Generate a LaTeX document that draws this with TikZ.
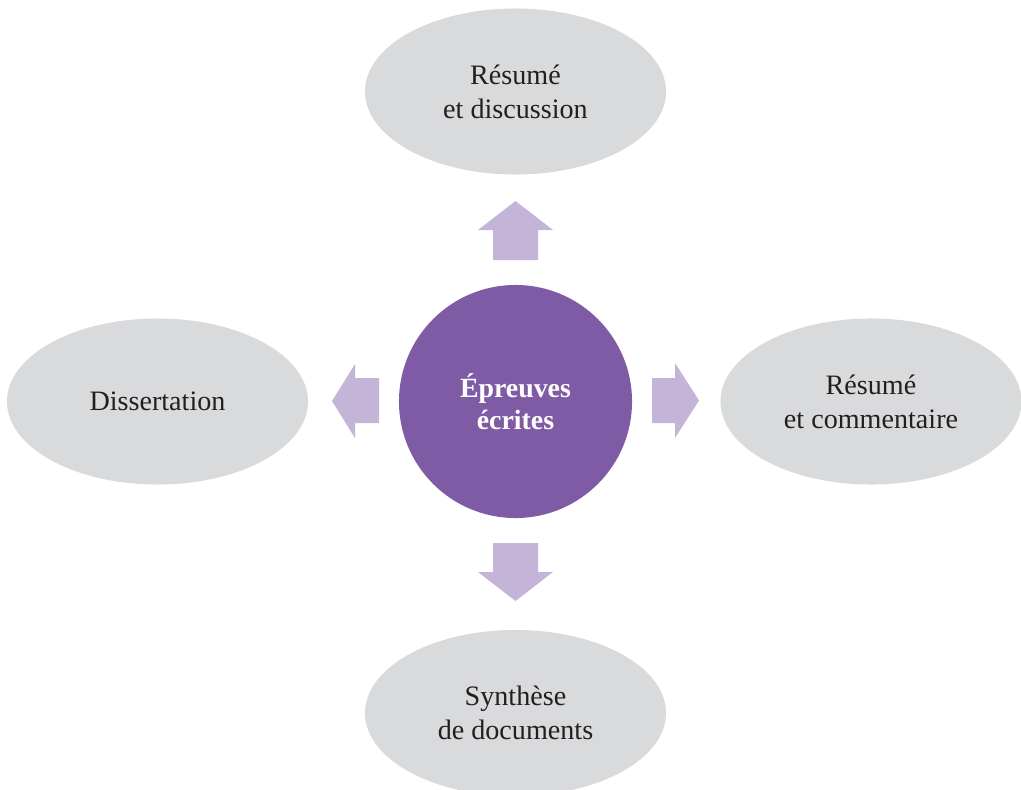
\documentclass[tikz,border=0pt]{standalone}
\usepackage{fontspec}
\setmainfont{Liberation Serif}
\usepackage{tikz}
\usetikzlibrary{positioning,shapes.geometric}

\definecolor{ovalgrey}{HTML}{D9DADC}
\definecolor{hubpurple}{HTML}{7F5BA6}
\definecolor{pointerlilac}{HTML}{C3B4D8}
\definecolor{inktext}{HTML}{231F20}

\begin{document}
\begin{tikzpicture}[%
  x=0.025cm,
  y=-0.025cm,
  oval/.style={
    ellipse,
    fill=ovalgrey,
    minimum width=7.525cm,
    minimum height=4.15cm,
    inner sep=0pt,
    align=center,
    text=inktext,
    font=\fontsize{20}{24.2}\selectfont,},
  hub/.style={
    circle,
    fill=hubpurple,
    minimum size=5.825cm,
    inner sep=0pt,
    align=center,
    text=white,
    font=\fontsize{19.8}{23}\selectfont\bfseries,},
  pointer/.style={
    fill=pointerlilac,}
  ]
  \clip (0,0) rectangle (1021,790);
  %% Nodes
  \node[hub] (E) at (515.5,401.5) {Épreuves\\écrites};
  \node[oval] (RD) at (515.5,91.5) {Résumé\\et discussion};
  \node[oval] (RC) at (871,401.5) {Résumé\\et commentaire};
  \node[oval] (D) at (157.5,401.5) {Dissertation};
  \node[oval] (SD) at (515.5,713) {Synthèse\\de documents};
  %% Arrows
  \fill[pointer] (493,260) -- (493,230) -- (478,230) -- (515.5,201)
    -- (553,230) -- (538,230) -- (538,260) -- cycle;
  \fill[pointer] (652,378) -- (675,378) -- (675,363) -- (699,400.5)
    -- (675,438) -- (675,423) -- (652,423) -- cycle;
  \fill[pointer] (379,378) -- (355,378) -- (355,364) -- (332,401)
    -- (355,438) -- (355,423) -- (379,423) -- cycle;
  \fill[pointer] (493,543) -- (493,572) -- (478,572) -- (515.5,601)
    -- (553,572) -- (538,572) -- (538,543) -- cycle;
\end{tikzpicture}
\end{document}
